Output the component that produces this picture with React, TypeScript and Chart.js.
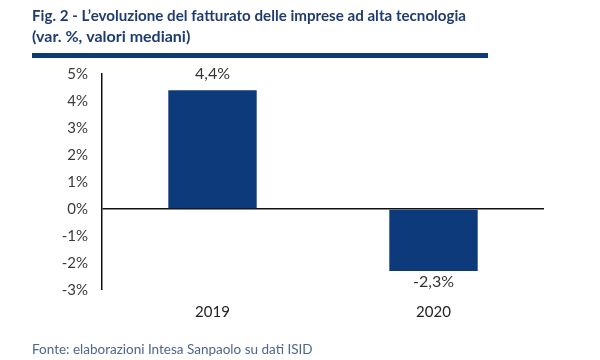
import React, { useEffect, useRef } from "react";
import { Chart, registerables } from "chart.js";

Chart.register(...registerables);

const categories = ["2019", "2020"];
const values = [4.4, -2.3];
const valueLabels = ["4,4%", "-2,3%"];
const titleLines = [
  "Fig. 2 - L\u2019evoluzione del fatturato delle imprese ad alta tecnologia",
  "(var. %, valori mediani)",
];
const sourceText = "Fonte: elaborazioni Intesa Sanpaolo su dati ISID";
const yMin = -3;
const yMax = 5;

const FONT = "Lato, 'Open Sans', sans-serif";

const decorPlugin = {
  id: "decor",
  afterDraw(chart: any) {
    const ctx = chart.ctx;
    ctx.save();
    // title
    ctx.fillStyle = "#1f3c70";
    ctx.font = `bold 16px ${FONT}`;
    ctx.textBaseline = "middle";
    ctx.textAlign = "left";
    ctx.fillText(titleLines[0], 32, 16, 434);
    ctx.fillText(titleLines[1], 32, 37);
    // rule
    ctx.fillStyle = "#0e3a76";
    ctx.fillRect(32, 53, 456, 5);
    // source
    ctx.fillStyle = "#4d6590";
    ctx.font = `13.5px ${FONT}`;
    ctx.fillText(sourceText, 32, 350);
    // value labels
    const meta = chart.getDatasetMeta(0);
    ctx.fillStyle = "#333333";
    ctx.font = `16px ${FONT}`;
    ctx.textAlign = "center";
    meta.data.forEach((bar: any, i: number) => {
      const v = values[i];
      const y = v >= 0 ? bar.y - 16 : bar.y + 11;
      ctx.fillText(valueLabels[i], bar.x, y);
    });
    ctx.restore();
  },
};

export default function App() {
  const ref = useRef<HTMLCanvasElement | null>(null);
  useEffect(() => {
    if (!ref.current) return;
    const chart = new Chart(ref.current, {
      type: "bar",
      data: {
        labels: categories,
        datasets: [
          {
            data: values,
            backgroundColor: "#0d3a7a",
            barPercentage: 0.4,
            categoryPercentage: 1,
          },
        ],
      },
      options: {
        animation: false,
        responsive: false,
        maintainAspectRatio: false,
        layout: { padding: { top: 74, left: 0, right: 56, bottom: 0 } },
        plugins: {
          legend: { display: false },
          tooltip: { enabled: false },
          title: { display: false },
        },
        scales: {
          x: {
            grid: { display: false, drawTicks: false },
            border: { display: false },
            ticks: {
              color: "#222222",
              font: { family: FONT, size: 15 },
              padding: 13,
            },
            afterFit: (s: any) => {
              s.height = 70;
            },
          },
          y: {
            min: yMin,
            max: yMax,
            ticks: {
              stepSize: 1,
              color: "#3a3a3a",
              font: { family: FONT, size: 15 },
              padding: 14,
              callback: (v: any) => `${v}%`,
            },
            grid: {
              drawTicks: false,
              color: (c: any) => (c.tick && c.tick.value === 0 ? "#111111" : "rgba(0,0,0,0)"),
              lineWidth: (c: any) => (c.tick && c.tick.value === 0 ? 1.5 : 0),
            },
            border: { display: true, color: "#111111", width: 1.5 },
            afterFit: (s: any) => {
              s.width = 102;
            },
          },
        },
      },
      plugins: [decorPlugin],
    });
    return () => chart.destroy();
  }, []);
  return (
    <div style={{ position: "fixed", left: 0, top: 0, width: 600, height: 360, background: "#fff" }}>
      <canvas ref={ref} width={600} height={360} style={{ width: 600, height: 360 }} />
    </div>
  );
}
